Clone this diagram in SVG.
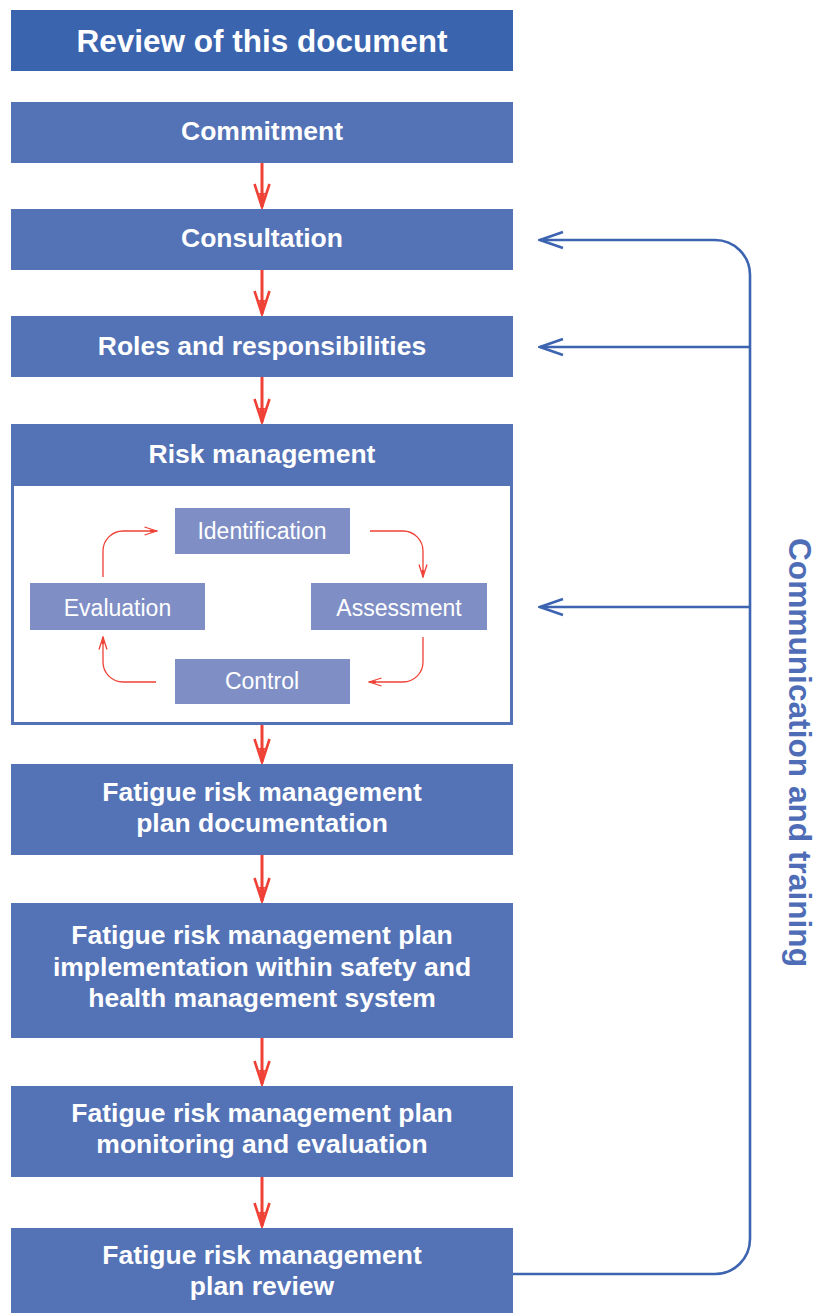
<svg xmlns="http://www.w3.org/2000/svg" width="819" height="1313" viewBox="0 0 819 1313">
<style>
.box{fill:#5472b6}
.title{fill:#3a64ae}
.sub{fill:#7f8fc5}
.t{font-family:"Liberation Sans",Arial,sans-serif;font-weight:bold;fill:#fff;text-anchor:middle;font-size:26.5px}
.st{font-family:"Liberation Sans",Arial,sans-serif;fill:#fff;text-anchor:middle;font-size:23px}
.red{stroke:#ef4136;stroke-width:3;fill:none}
.redthin{stroke:#ef4136;stroke-width:1.3;fill:none}
.blue{stroke:#3c64b0;stroke-width:2.6;fill:none}
</style>
<defs>
<marker id="ra" markerUnits="userSpaceOnUse" viewBox="0 0 26 18" refX="24" refY="9" markerWidth="26" markerHeight="18" orient="auto">
<path d="M1,1.5 L24,9 L1,16.5" fill="none" stroke="#ef4136" stroke-width="2.6"/>
<path d="M10,6 L24,9 L10,12 Z" fill="#ef4136"/>
</marker>
<marker id="ba" markerUnits="userSpaceOnUse" viewBox="0 0 26 20" refX="24" refY="10" markerWidth="26" markerHeight="20" orient="auto">
<path d="M1,2 L24,10 L1,18" fill="none" stroke="#3c64b0" stroke-width="2.6"/>
</marker>
<marker id="sa" markerUnits="userSpaceOnUse" viewBox="0 0 14 10" refX="13" refY="5" markerWidth="14" markerHeight="10" orient="auto">
<path d="M0.5,1 L13,5 L0.5,9" fill="none" stroke="#ef4136" stroke-width="1.3"/>
<path d="M6,3.5 L13,5 L6,6.5 Z" fill="#ef4136"/>
</marker>
</defs>

<g id="review-doc"><rect class="title" x="11" y="10" width="502" height="61"/><text class="t" x="262" y="52" font-size="31.5" style="font-size:31.5px">Review of this document</text></g>
<g id="commitment"><rect class="box" x="11" y="102" width="502" height="61"/><text class="t" x="262" y="140">Commitment</text></g>
<g id="consultation"><rect class="box" x="11" y="209" width="502" height="61"/><text class="t" x="262" y="247">Consultation</text></g>
<g id="roles"><rect class="box" x="11" y="316" width="502" height="61"/><text class="t" x="262" y="355">Roles and responsibilities</text></g>
<g id="risk-management"><rect class="box" x="11" y="424" width="502" height="301"/><rect x="14" y="486" width="496" height="236" fill="#fff"/><text class="t" x="262" y="463">Risk management</text></g>
<g id="identification"><rect class="sub" x="175" y="508" width="175" height="46"/><text class="st" x="262" y="539">Identification</text></g>
<g id="evaluation"><rect class="sub" x="30" y="583" width="175" height="47"/><text class="st" x="117.5" y="616">Evaluation</text></g>
<g id="assessment"><rect class="sub" x="311" y="583" width="176" height="47"/><text class="st" x="399" y="616">Assessment</text></g>
<g id="control"><rect class="sub" x="175" y="659" width="175" height="45"/><text class="st" x="262" y="689">Control</text></g>
<g id="frmp-doc"><rect class="box" x="11" y="764" width="502" height="91"/><text class="t" x="262" y="801">Fatigue risk management</text><text class="t" x="262" y="832">plan documentation</text></g>
<g id="frmp-impl"><rect class="box" x="11" y="903" width="502" height="135"/><text class="t" x="262" y="944">Fatigue risk management plan</text><text class="t" x="262" y="976">implementation within safety and</text><text class="t" x="262" y="1007">health management system</text></g>
<g id="frmp-monitor"><rect class="box" x="11" y="1086" width="502" height="91"/><text class="t" x="262" y="1122">Fatigue risk management plan</text><text class="t" x="262" y="1153">monitoring and evaluation</text></g>
<g id="frmp-review"><rect class="box" x="11" y="1228" width="502" height="85"/><text class="t" x="262" y="1264">Fatigue risk management</text><text class="t" x="262" y="1295">plan review</text></g>
<g id="comm-label"><text x="789" y="538" transform="rotate(90 789 538)" font-family="'Liberation Sans',Arial,sans-serif" font-weight="bold" font-size="31.5" fill="#4f6db6" textLength="429" lengthAdjust="spacingAndGlyphs">Communication and training</text></g>

<g id="connectors">
<path class="red" d="M262,163 V207" marker-end="url(#ra)"/>
<path class="red" d="M262,270 V314" marker-end="url(#ra)"/>
<path class="red" d="M262,377 V422" marker-end="url(#ra)"/>
<path class="red" d="M262,725 V762" marker-end="url(#ra)"/>
<path class="red" d="M262,855 V901" marker-end="url(#ra)"/>
<path class="red" d="M262,1038 V1084" marker-end="url(#ra)"/>
<path class="red" d="M262,1177 V1226" marker-end="url(#ra)"/>
<path class="redthin" d="M103,577 V551 A20,20 0 0 1 123,531 H157" marker-end="url(#sa)"/>
<path class="redthin" d="M370,531 H403 A20,20 0 0 1 423,551 V577" marker-end="url(#sa)"/>
<path class="redthin" d="M423,637 V662 A20,20 0 0 1 403,682 H369" marker-end="url(#sa)"/>
<path class="redthin" d="M156,682 H123 A20,20 0 0 1 103,662 V637" marker-end="url(#sa)"/>
<path class="blue" d="M513,1274 H715 A35,35 0 0 0 750,1239 V275 A35,35 0 0 0 715,240 H540" marker-end="url(#ba)"/>
<path class="blue" d="M750,347 H540" marker-end="url(#ba)"/>
<path class="blue" d="M750,607 H540" marker-end="url(#ba)"/>
</g>
</svg>
